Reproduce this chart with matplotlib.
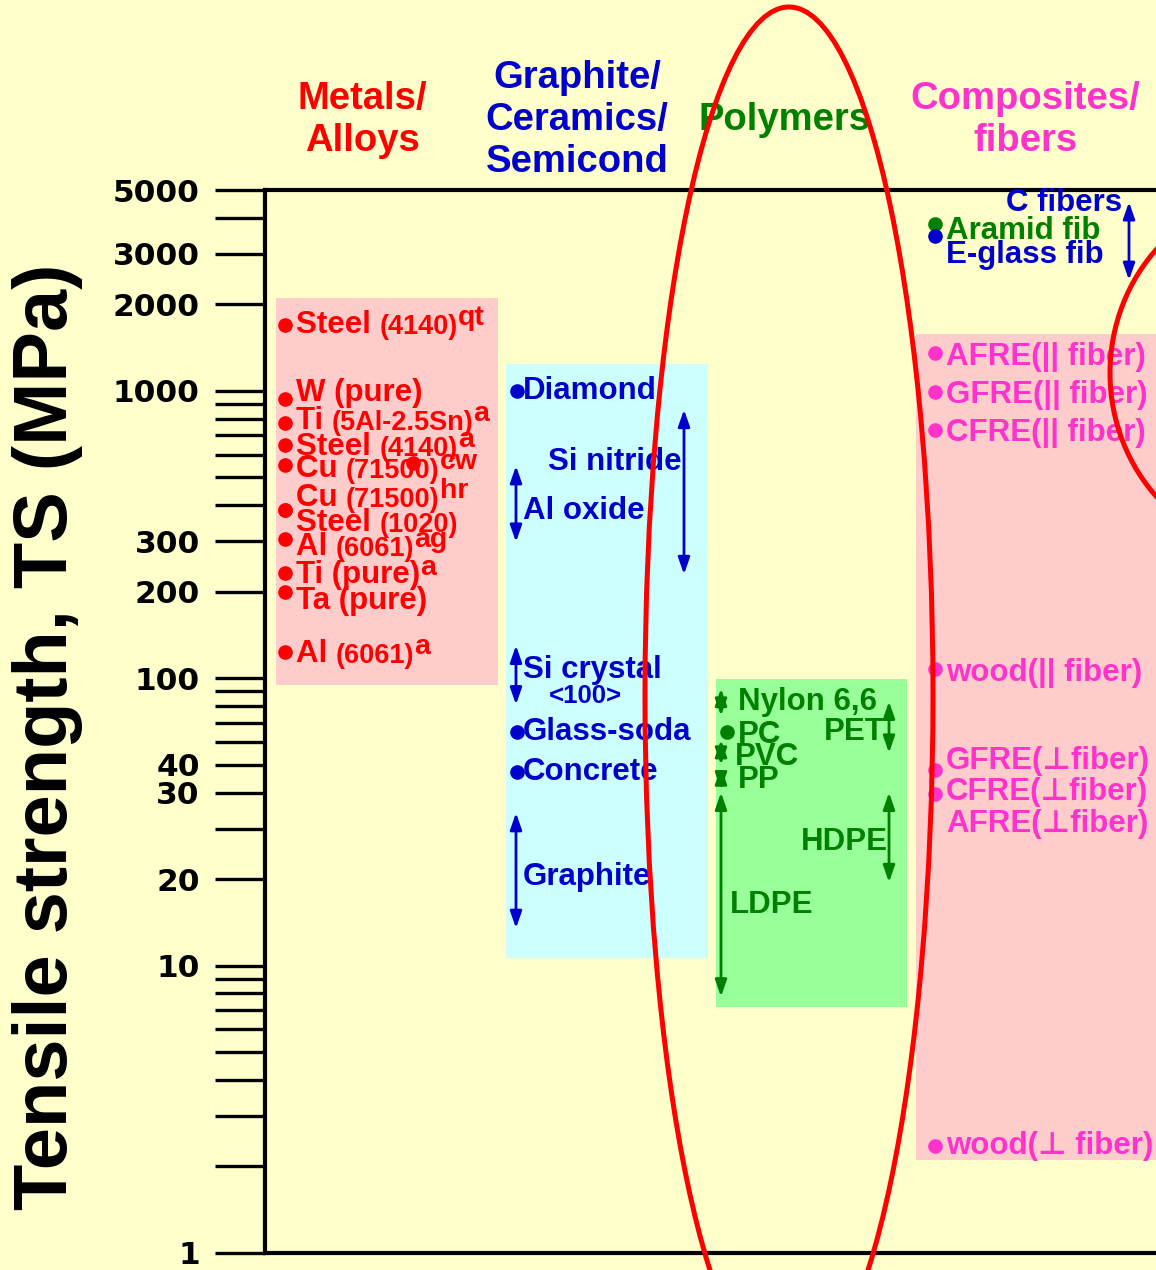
import matplotlib
matplotlib.use("Agg")
import matplotlib.pyplot as plt
from matplotlib.patches import Ellipse, Rectangle
from matplotlib.transforms import IdentityTransform
from matplotlib.ticker import FixedLocator, NullLocator

plt.rcParams['font.family'] = ['Liberation Sans', 'DejaVu Sans']
plt.rcParams['font.weight'] = 'bold'

# ---- data (tensile strength, MPa) ----
metal_names = ["Steel", "W (pure)", "Ti", "Steel", "Cu", "Cu", "Steel", "Al", "Ti (pure)", "Ta (pure)", "Al"]
metal_grades = ["(4140)", "", "(5Al-2.5Sn)", "(4140)", "(71500)", "(71500)", "(1020)", "(6061)", "", "", "(6061)"]
metal_cond = ["qt", "", "a", "a", "cw", "hr", "", "ag", "a", "", "a"]
metal_ts = [1700, 940, 770, 650, 550, 385, 385, 305, 232, 200, 123]
metal_stray_ts = [560]

cer_point_names = ["Diamond", "Glass-soda", "Concrete"]
cer_point_ts = [1000, 65, 47]
cer_range_names = ["Si nitride", "Al oxide", "Si crystal", "Graphite"]
cer_range_lo = [230, 298, 81, 13.5]
cer_range_hi = [860, 548, 130, 34]

poly_range_names = ["Nylon 6,6", "PVC", "PP", "LDPE", "PET", "HDPE"]
poly_range_lo = [74, 50, 41, 7.8, 55, 19.5]
poly_range_hi = [92, 61, 49, 40, 83, 40]
poly_point_names = ["PC"]
poly_point_ts = [65]

fib_names = ["Aramid fib", "E-glass fib"]
fib_ts = [3800, 3450]
cfib_lo, cfib_hi = 2430, 4540

comp_names = ["AFRE(|| fiber)", "GFRE(|| fiber)", "CFRE(|| fiber)", "wood(|| fiber)",
              "GFRE(\u22a5fiber)", "CFRE(\u22a5fiber)", "AFRE(\u22a5fiber)", "wood(\u22a5 fiber)"]
comp_ts = [1355, 990, 730, 108, 48, 39.5, 31, 2.35]
comp_has_dot = [True, True, True, True, True, True, False, True]

yticks_all = [1, 2, 3, 4, 5, 6, 7, 8, 9, 10, 20, 30, 40, 50, 60, 70, 80, 90,
              100, 200, 300, 400, 500, 600, 700, 800, 900, 1000, 2000, 3000, 4000, 5000]
ytick_text = {1: "1", 10: "10", 20: "20", 40: "30", 50: "40", 100: "100", 200: "200",
              300: "300", 1000: "1000", 2000: "2000", 3000: "3000", 5000: "5000"}

# ---- styles / layout ----
BG = "#FFFFCC"
RED, BLUE, GREEN, PINK = "#FF0000", "#0000CC", "#008000", "#FF33CC"
FS = 22.5
SM = 19.5

fig = plt.figure(figsize=(11.56, 12.70), dpi=100, facecolor=BG)
ax = fig.add_axes([265 / 1156, 17 / 1270, 1 - 265 / 1156, (1253 - 190) / 1270])
ax.set_facecolor(BG)
ax.set_yscale("log")
ax.set_ylim(1, 5000)
ax.set_xlim(265, 1156)

for s in ["left", "top", "bottom"]:
    ax.spines[s].set_linewidth(3)
ax.spines["right"].set_visible(False)
ax.set_xticks([])
ax.yaxis.set_major_locator(FixedLocator(yticks_all))
ax.yaxis.set_minor_locator(NullLocator())
ax.set_yticklabels([ytick_text.get(v, "") for v in yticks_all])
ax.tick_params(axis="y", length=36, width=2.4, pad=11, labelsize=22.5)
for lab in ax.get_yticklabels():
    lab.set_fontfamily("DejaVu Sans")
    lab.set_fontweight("bold")

# background boxes for each class
boxes = [(276, 498, 95, 2100, "#FFCCCC"), (506, 708, 10.6, 1240, "#CCFFFF"),
         (716, 907, 7.2, 99.4, "#99FF99"), (916, 1160, 2.1, 1577, "#FFCCCC")]
for x0, x1, lo, hi, c in boxes:
    ax.add_patch(Rectangle((x0, lo), x1 - x0, hi - lo, facecolor=c, edgecolor="none", zorder=0.5))


def arrow(x, lo, hi, color):
    ax.annotate("", xy=(x, lo), xytext=(x, hi),
                arrowprops=dict(arrowstyle="<|-|>,head_length=1.0,head_width=0.35",
                                color=color, lw=2, shrinkA=0, shrinkB=0), zorder=3)


def label(x, y, pieces, color, dy=0, ha="left"):
    t = ax.annotate(pieces[0][0], (x, y), xytext=(0, dy), textcoords="offset pixels",
                    color=color, fontsize=pieces[0][1], va="center", ha=ha, zorder=4)
    prev = t
    for txt, size, rise in pieces[1:]:
        prev = ax.annotate(txt, xy=(1, 0), xycoords=prev, xytext=(0, rise),
                           textcoords="offset pixels", color=color, fontsize=size,
                           va="bottom", ha="left", zorder=4)


# metals
metal_dy = [0, 6, 2, -2, -4, 12, -13, -8, -2, -9, -2]
ax.plot([285] * len(metal_ts), metal_ts, "o", color=RED, ms=9.5, zorder=3)
ax.plot([413] * len(metal_stray_ts), metal_stray_ts, "o", color=RED, ms=9.5, zorder=5)
for n, g, c, v, dy in zip(metal_names, metal_grades, metal_cond, metal_ts, metal_dy):
    pieces = [(n + (" " if g else ""), FS, 0)]
    if g:
        pieces.append((g, SM, 0))
    if c:
        pieces.append((c, SM + 1, 9))
    label(296, v, pieces, RED, dy)

# ceramics
cer_point_dy = [0, 0, 0]
ax.plot([517] * len(cer_point_ts), cer_point_ts, "o", color=BLUE, ms=9.5, zorder=3)
for n, v, dy in zip(cer_point_names, cer_point_ts, cer_point_dy):
    label(523, v, [(n, FS, 0)], BLUE, dy)
cer_arrow_x = [684, 516, 516, 516]
cer_lab_x = [682, 523, 523, 523]
cer_lab_ha = ["right", "left", "left", "left"]
cer_lab_dy = [30, -7, 5, -6]
for n, lo, hi, ax_x, lx, ha, dy in zip(cer_range_names, cer_range_lo, cer_range_hi,
                                         cer_arrow_x, cer_lab_x, cer_lab_ha, cer_lab_dy):
    arrow(ax_x, lo, hi, BLUE)
    label(lx, (lo * hi) ** 0.5, [(n, FS, 0)], BLUE, dy, ha)
label(585, (cer_range_lo[2] * cer_range_hi[2]) ** 0.5, [("<100>", SM - 1, 0)], BLUE, -21, "center")

# polymers
poly_arrow_x = [721, 721, 721, 721, 889, 889]
poly_lab_x = [738, 735, 738, 730, 885, 888]
poly_lab_ha = ["left", "left", "left", "left", "right", "right"]
poly_lab_dy = [0, -5, -2, -10, -5, -5]
for n, lo, hi, ax_x, lx, ha, dy in zip(poly_range_names, poly_range_lo, poly_range_hi,
                                         poly_arrow_x, poly_lab_x, poly_lab_ha, poly_lab_dy):
    arrow(ax_x, lo, hi, GREEN)
    label(lx, (lo * hi) ** 0.5, [(n, FS, 0)], GREEN, dy, ha)
ax.plot([727] * len(poly_point_ts), poly_point_ts, "o", color=GREEN, ms=9.5, zorder=3)
for n, v in zip(poly_point_names, poly_point_ts):
    label(738, v, [(n, FS, 0)], GREEN, -3)

# fibers
ax.plot([935], [fib_ts[0]], "o", color=GREEN, ms=9.5, zorder=3)
ax.plot([935], [fib_ts[1]], "o", color=BLUE, ms=9.5, zorder=3)
label(946, fib_ts[0], [(fib_names[0], FS, 0)], GREEN, -7)
label(946, fib_ts[1], [(fib_names[1], FS, 0)], BLUE, -19)
arrow(1129, cfib_lo, cfib_hi, BLUE)
label(1122, (cfib_lo * cfib_hi) ** 0.5, [("C fibers", FS, 0)], BLUE, 38, "right")

# composites
comp_dy = [-4, -3, -3, -4, 9, 2, 0, 0]
for n, v, d, dy in zip(comp_names, comp_ts, comp_has_dot, comp_dy):
    if d:
        ax.plot([935], [v], "o", color=PINK, ms=9.5, zorder=3)
    label(946, v, [(n, FS, 0)], PINK, dy)

# headers and axis title
hdr = [("Metals/\nAlloys", 362, RED), ("Graphite/\nCeramics/\nSemicond", 577, BLUE),
       ("Polymers", 785, GREEN), ("Composites/\nfibers", 1025, PINK)]
for txt, x, c in hdr:
    fig.text(x / 1156, 1 - 120 / 1270, txt, color=c, fontsize=27.5, ha="center", va="center",
             linespacing=1.2)
fig.text(48 / 1156, 1 - 737 / 1270, "Tensile strength, TS (MPa)", rotation=90,
         fontsize=54.5, ha="center", va="center")

# red ellipses highlighting polymers and composites
for cx, cy, w, h in [(789, 695, 288, 1376), (1280, 373, 340, 360)]:
    fig.add_artist(Ellipse((cx, 1270 - cy), w, h, transform=IdentityTransform(),
                           fill=False, edgecolor=RED, lw=3.6, zorder=10))

fig.savefig("out.png", dpi=100, facecolor=BG)
